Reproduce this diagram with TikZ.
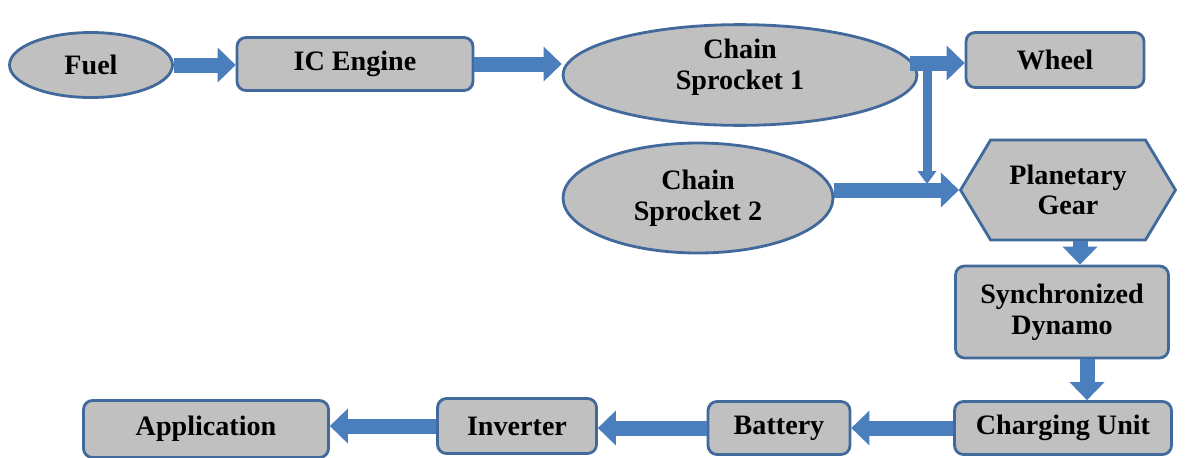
\documentclass[tikz,border=0pt]{standalone}
\usepackage{fontspec}
\setmainfont{Liberation Serif}
\usetikzlibrary{shapes.geometric,shapes.symbols,arrows.meta}
\definecolor{boxgray}{RGB}{192,192,192}
\definecolor{boxedge}{RGB}{65,105,156}
\definecolor{flowblue}{RGB}{74,126,189}
\begin{document}
\begin{tikzpicture}[x=0.02cm,y=-0.02cm,
    base/.style={draw=boxedge,fill=boxgray,line width=1.6pt,align=center,inner sep=0pt,
      font=\fontsize{16}{17.5}\selectfont\bfseries},
    box/.style={base,rectangle,rounded corners=0.18cm},
    oval/.style={base,ellipse},
    hexa/.style={base,signal,signal to=west and east,signal pointer angle=118},
    flow/.style={draw=flowblue,line width=0.3cm,-{Triangle[width=0.7cm,length=0.36cm,line width=0pt]}},
    thinflow/.style={draw=flowblue,line width=0.18cm,-{Triangle[width=0.38cm,length=0.26cm,line width=0pt]}}]
  \useasboundingbox (0,0) rectangle (1189,457);
  % top row
  \node[oval,minimum width=3.26cm,minimum height=1.3cm](fuel)at(91,65){Fuel};
  \node[box,minimum width=4.72cm,minimum height=1.06cm](engine)at(355,64){IC Engine};
  \node[oval,minimum width=7.08cm,minimum height=1.92cm,text depth=0.42cm](sprocket1)at(740,75){Chain\\Sprocket 1};
  \node[box,minimum width=3.56cm,minimum height=1.1cm](wheel)at(1055,60){Wheel};
  % middle
  \node[oval,minimum width=5.4cm,minimum height=2.2cm](sprocket2)at(698,198){Chain\\Sprocket 2};
  \node[hexa,minimum width=4.3cm,minimum height=2cm](gear)at(1068,190){Planetary\\Gear};
  \node[box,minimum width=4.26cm,minimum height=1.84cm](dynamo)at(1062,312){Synchronized\\Dynamo};
  % bottom row
  \node[box,minimum width=4.34cm,minimum height=1.06cm](charger)at(1063,428){Charging Unit};
  \node[box,minimum width=2.84cm,minimum height=1.06cm](battery)at(779,428){Battery};
  \node[box,minimum width=3.18cm,minimum height=1.1cm](inverter)at(517,426){Inverter};
  \node[box,minimum width=4.9cm,minimum height=1.14cm](app)at(206,429){Application};
  \coordinate(fork)at(910,63);
  \coordinate(drop)at(927,63);
  \coordinate(join)at(927,184);
  % arrows
  \draw[flow](fuel.east)--(fuel.east-|engine.west);
  \draw[flow](engine.east)--(engine.east-|sprocket1.west);
  \draw[flow](fork)--(fork-|wheel.west);
  \draw[thinflow](drop)--(join);
  \draw[flow](sprocket2.east|-gear.west)--(gear.west);
  \draw[flow]([xshift=0.24cm]gear.south)--([xshift=0.24cm]gear.south|-dynamo.north);
  \draw[flow]([xshift=0.5cm]dynamo.south)--([xshift=0.5cm]dynamo.south|-charger.north);
  \draw[flow](charger.west)--(charger.west-|battery.east);
  \draw[flow](battery.west)--(battery.west-|inverter.east);
  \draw[flow](inverter.west)--(inverter.west-|app.east);
\end{tikzpicture}
\end{document}
